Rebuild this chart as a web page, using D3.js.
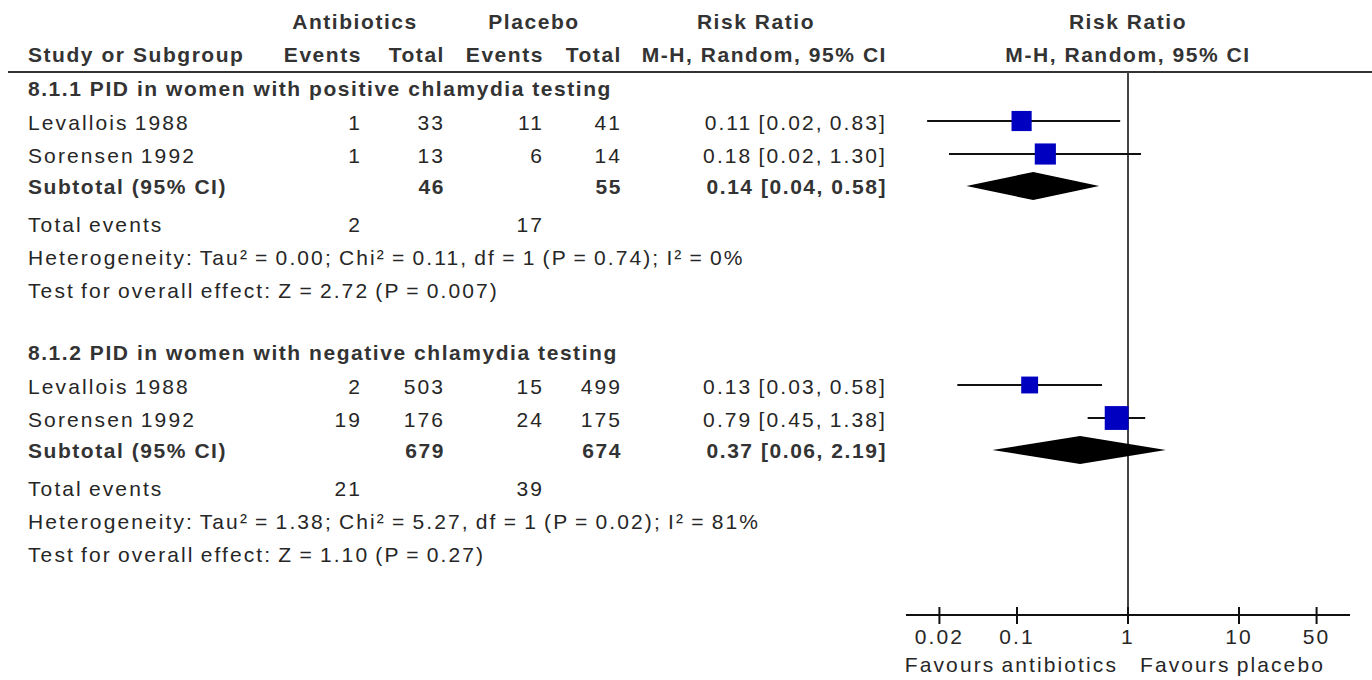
<!DOCTYPE html>
<html>
<head>
<meta charset="utf-8">
<script src="https://cdn.jsdelivr.net/npm/d3@7"></script>
<style>
  body { margin: 0; background: #fff; }
  svg text { font-family: "Liberation Sans", Arial, sans-serif; font-size: 21px; fill: #262626; }
  .reg { letter-spacing: 2.1px; word-spacing: -1.8px; }
  .bold { font-weight: bold; letter-spacing: 1.55px; fill: #333; }
</style>
</head>
<body>
<svg id="chart" width="1372" height="680"></svg>
<script>
// ---- data ----
var groupTitles = ["8.1.1 PID in women with positive chlamydia testing",
                   "8.1.2 PID in women with negative chlamydia testing"];
var studyNames  = ["Levallois 1988", "Sorensen 1992", "Levallois 1988", "Sorensen 1992"];
var studyGroup  = [0, 0, 1, 1];
var abxEvents   = [1, 1, 2, 19];
var abxTotal    = [33, 13, 503, 176];
var plcEvents   = [11, 6, 15, 24];
var plcTotal    = [41, 14, 499, 175];
var studyRR     = [0.11, 0.18, 0.13, 0.79];
var studyLow    = [0.0155, 0.0244, 0.029, 0.433];
var studyHigh   = [0.85, 1.31, 0.583, 1.43];
var studyWeight = [47.6, 52.4, 33.4, 66.6];
var studyLabels = ["0.11 [0.02, 0.83]", "0.18 [0.02, 1.30]", "0.13 [0.03, 0.58]", "0.79 [0.45, 1.38]"];

var subAbxTotal = [46, 679];
var subPlcTotal = [55, 674];
var subRR       = [0.14, 0.37];
var subLow      = [0.035, 0.06];
var subHigh     = [0.55, 2.19];
var subLabels   = ["0.14 [0.04, 0.58]", "0.37 [0.06, 2.19]"];
var totAbxEvents = [2, 21];
var totPlcEvents = [17, 39];
var heterogeneity = ["Heterogeneity: Tau\u00b2 = 0.00; Chi\u00b2 = 0.11, df = 1 (P = 0.74); I\u00b2 = 0%",
                     "Heterogeneity: Tau\u00b2 = 1.38; Chi\u00b2 = 5.27, df = 1 (P = 0.02); I\u00b2 = 81%"];
var overallEffect = ["Test for overall effect: Z = 2.72 (P = 0.007)",
                     "Test for overall effect: Z = 1.10 (P = 0.27)"];
var xTicks = [0.02, 0.1, 1, 10, 50];
var xDomain = [0.01, 100];

// ---- layout ----
var svg = d3.select("#chart");
var colX = { name: 28, abxEv: 362, abxTot: 445, plcEv: 544, plcTot: 622, rr: 887 };
var axisY = 615, headLineY = 72;

var x = d3.scaleLog().domain(xDomain).range([906, 1350]);
var boxSize = d3.scaleSqrt().domain([0, 100]).range([0, 29.2]);

function txt(xp, yp, s, cls, anchor){
    return svg.append("text")
        .attr("x", xp).attr("y", yp)
        .attr("dy", "0.35em")
        .attr("class", cls)
        .attr("text-anchor", anchor || "start")
        .text(s);
}

// header
txt(355, 22, "Antibiotics", "bold", "middle");
txt(534, 22, "Placebo", "bold", "middle");
txt(756, 22, "Risk Ratio", "bold", "middle");
txt(x(1), 22, "Risk Ratio", "bold", "middle");
txt(colX.name, 55, "Study or Subgroup", "bold");
txt(colX.abxEv, 55, "Events", "bold", "end");
txt(colX.abxTot, 55, "Total", "bold", "end");
txt(colX.plcEv, 55, "Events", "bold", "end");
txt(colX.plcTot, 55, "Total", "bold", "end");
txt(colX.rr, 55, "M-H, Random, 95% CI", "bold", "end");
txt(x(1), 55, "M-H, Random, 95% CI", "bold", "middle");

svg.append("line")
    .attr("x1", 8).attr("x2", 1372)
    .attr("y1", headLineY).attr("y2", headLineY)
    .attr("stroke", "#333").attr("stroke-width", 2);

// line of no effect
svg.append("line")
    .attr("x1", x(1)).attr("x2", x(1))
    .attr("y1", headLineY).attr("y2", axisY)
    .attr("stroke", "#444").attr("stroke-width", 2);

// groups
var y = 89;
groupTitles.forEach(function(title, g){
    txt(colX.name, y, title, "bold");
    y += 34;
    studyNames.forEach(function(name, i){
        if( studyGroup[i] != g ) return;
        txt(colX.name, y, name, "reg");
        txt(colX.abxEv, y, abxEvents[i], "reg", "end");
        txt(colX.abxTot, y, abxTotal[i], "reg", "end");
        txt(colX.plcEv, y, plcEvents[i], "reg", "end");
        txt(colX.plcTot, y, plcTotal[i], "reg", "end");
        txt(colX.rr, y, studyLabels[i], "reg", "end");

        svg.append("line")
            .attr("x1", x(studyLow[i])).attr("x2", x(studyHigh[i]))
            .attr("y1", y - 2).attr("y2", y - 2)
            .attr("stroke", "#111").attr("stroke-width", 2);
        var s = boxSize(studyWeight[i]);
        svg.append("rect")
            .attr("x", x(studyRR[i]) - s/2).attr("y", y - 2 - s/2)
            .attr("width", s).attr("height", s)
            .attr("fill", "#0000c0");
        y += 33;
    });
    y -= 2;
    txt(colX.name, y, "Subtotal (95% CI)", "bold");
    txt(colX.abxTot, y, subAbxTotal[g], "bold", "end");
    txt(colX.plcTot, y, subPlcTotal[g], "bold", "end");
    txt(colX.rr, y, subLabels[g], "bold", "end");
    var dy = y - 1;
    svg.append("path")
        .attr("d", "M" + x(subLow[g]) + "," + dy +
                   "L" + x(subRR[g]) + "," + (dy - 14) +
                   "L" + x(subHigh[g]) + "," + dy +
                   "L" + x(subRR[g]) + "," + (dy + 14) + "Z")
        .attr("fill", "#000");
    y += 38;
    txt(colX.name, y, "Total events", "reg");
    txt(colX.abxEv, y, totAbxEvents[g], "reg", "end");
    txt(colX.plcEv, y, totPlcEvents[g], "reg", "end");
    y += 33;
    txt(colX.name, y, heterogeneity[g], "reg");
    y += 33;
    txt(colX.name, y, overallEffect[g], "reg");
    y += 62;
});

// axis
var axisG = svg.append("g");
axisG.append("line")
    .attr("x1", x.range()[0]).attr("x2", x.range()[1])
    .attr("y1", axisY).attr("y2", axisY)
    .attr("stroke", "#111").attr("stroke-width", 2);
axisG.selectAll(".tick").data(xTicks).enter().append("line")
    .attr("x1", function(d){ return x(d); }).attr("x2", function(d){ return x(d); })
    .attr("y1", axisY - 8).attr("y2", axisY + 9)
    .attr("stroke", "#111").attr("stroke-width", 2);
axisG.selectAll(".tl").data(xTicks).enter().append("text")
    .attr("class", "reg")
    .attr("x", function(d){ return x(d); })
    .attr("y", 637).attr("dy", "0.35em")
    .attr("text-anchor", "middle")
    .text(function(d){ return d; });

txt(x(1) - 10, 665, "Favours antibiotics", "reg", "end");
txt(x(1) + 12, 665, "Favours placebo", "reg", "start");
</script>
</body>
</html>
